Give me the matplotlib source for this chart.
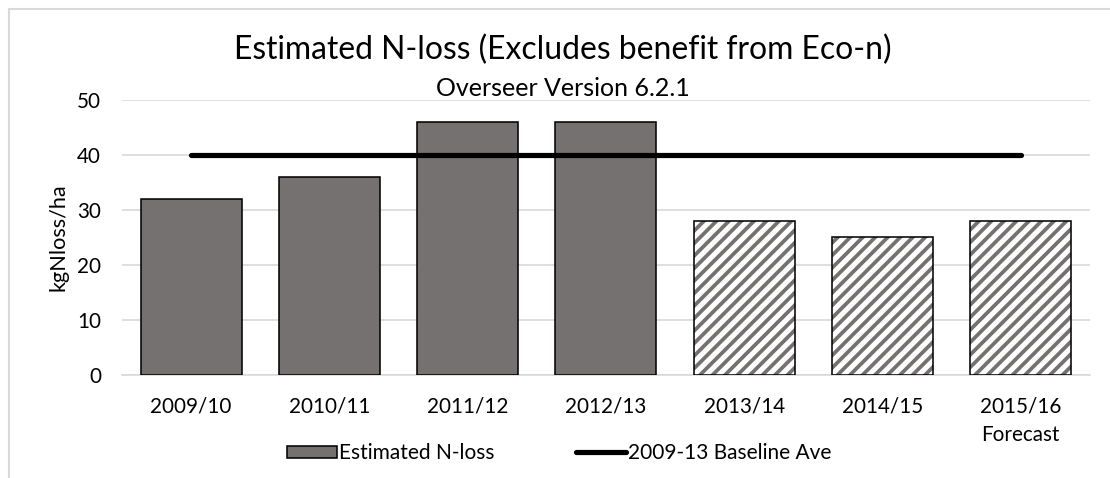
import matplotlib.pyplot as plt
from matplotlib.patches import Rectangle
import numpy as np

# N-loss per season, baseline average over 2009-13
seasons = ["2009/10", "2010/11", "2011/12", "2012/13", "2013/14", "2014/15", "2015/16\nForecast"]
n_loss = [32, 36, 46, 46, 28, 25, 28]
is_estimate = [False, False, False, False, True, True, True]
baseline = [40, 40, 40, 40, 40, 40, 40]

bar_grey = "#767171"
grid_grey = "#d9d9d9"

plt.rcParams['font.family'] = ['Lato', 'DejaVu Sans']
plt.rcParams['hatch.linewidth'] = 1.8

fig = plt.figure(figsize=(7.4, 478 / 150), dpi=150)
ax = fig.add_axes([0.1099, 0.2155, 0.872, 0.5753])

x = np.arange(len(seasons))
for i in x:
    if is_estimate[i]:
        # grey stripes first, black outline on top
        ax.bar(x[i], n_loss[i], width=0.73, color="white", hatch="////",
               edgecolor=bar_grey, linewidth=0, zorder=3)
        ax.bar(x[i], n_loss[i], width=0.73, fill=False,
               edgecolor="black", linewidth=0.75, zorder=3)
    else:
        ax.bar(x[i], n_loss[i], width=0.73, color=bar_grey,
               edgecolor="black", linewidth=0.75, zorder=3)

ax.plot(x, baseline, color="black", linewidth=2.5, solid_capstyle="round", zorder=4)

ax.set_xlim(-0.5, len(seasons) - 0.5)
ax.set_ylim(0, 50)
ax.set_yticks([0, 10, 20, 30, 40, 50])
ax.yaxis.grid(True, color=grid_grey, linewidth=0.8, zorder=0)
ax.set_axisbelow(True)
for s in ["top", "right", "left"]:
    ax.spines[s].set_visible(False)
ax.spines["bottom"].set_color(grid_grey)
ax.spines["bottom"].set_linewidth(0.8)
ax.tick_params(axis="both", length=0, labelsize=9.9, colors="black")
ax.tick_params(axis="y", pad=10)
ax.tick_params(axis="x", pad=10.5)
ax.set_xticks(x)
ax.set_xticklabels(seasons, linespacing=1.5)
ax.set_ylabel("kgNloss/ha", fontsize=10.4, labelpad=4)

fig.text(0.507, 1 - 50 / 478, "Estimated N-loss (Excludes benefit from Eco-n)",
         ha="center", va="center", fontsize=15.3)
fig.text(0.507, 1 - 88 / 478, "Overseer Version 6.2.1", ha="center", va="center", fontsize=12)

# legend handles
bar_handle = Rectangle((0, 0), 1, 1, facecolor=bar_grey, edgecolor="black", linewidth=0.75)
line_handle = plt.Line2D([0], [0], color="black", linewidth=2.5, solid_capstyle="round")
fig.legend([bar_handle, line_handle], ["Estimated N-loss", "2009-13 Baseline Ave"],
           loc="center", bbox_to_anchor=(0.504, 1 - 453 / 478), ncol=2, frameon=False,
           fontsize=10, handlelength=2.4, handleheight=0.5, handletextpad=0.1,
           columnspacing=3.9)

# light chart border
fig.patches.append(Rectangle((9 / 1110, -1), 2, 1 + (1 - 9 / 478), transform=fig.transFigure,
                             facecolor="none", edgecolor=grid_grey, linewidth=1.0))

fig.savefig("out.png", dpi=150)
